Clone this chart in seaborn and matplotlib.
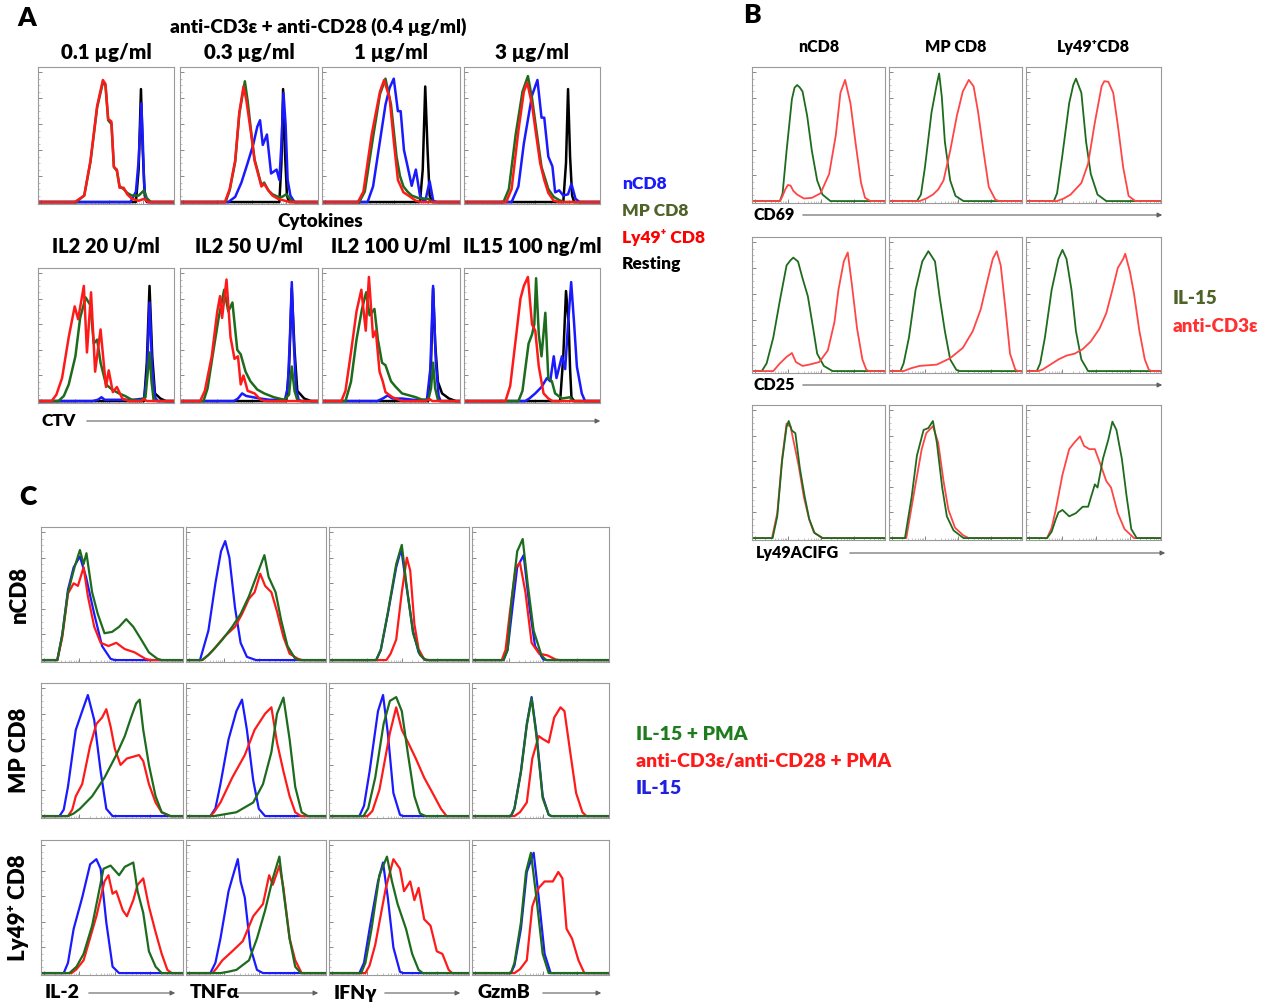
import matplotlib
matplotlib.use("Agg")
import matplotlib.pyplot as plt
from matplotlib.patches import FancyArrowPatch
import numpy as np
import pandas as pd
import seaborn as sns

# ---- Panel A: CTV dilution, top row (anti-CD3e doses), x/y in % of the plot box
a11_red = [(0,0),(27,0),(34,5),(38.6,32),(43.5,74),(47.7,94),(49.6,91),(51.6,64),(54,62),(55.8,27),(58,25),(60,11),(63,11),(65.6,6),(69,2.5),(74,1),(78,2.5),(81,0),(100,0)]
a11_green = [(0,0),(28,0),(34,5),(38.6,31),(43.5,73),(47.7,92),(49.6,90),(51.6,63),(54,60),(55.8,27),(58,24),(60,12),(63,10),(65.6,7),(69,5),(74,5),(76,7),(78,9),(80,3),(83,0),(100,0)]
a11_blue = [(0,0),(68,0),(72,8),(74,32),(76,76),(77,49),(78,15),(79,2),(81,0),(100,0)]
a11_black = [(0,0),(72,0),(74,25),(75.7,87),(77,40),(78.5,5),(80,0),(100,0)]

a12_red = [(0,0),(32.5,0),(36,10),(40,32),(43,69),(46,89),(48,79),(52,49),(54,32),(57,20),(59,12),(61,14),(64,9),(67,5),(71,2.5),(76,1),(80,0),(100,0)]
a12_green = [(0,0),(33,0),(36,9),(40,31),(43,68),(47,93),(49,78),(52,50),(54,33),(57,21),(59,13),(61,15),(64,9),(67,6),(71,4),(74,4),(77,6),(80,2),(83,0),(100,0)]
a12_blue = [(0,0),(35,0),(40,4),(44.5,15),(49,30),(53,44),(56,58),(58,63),(60,44),(63,52),(66,22),(70,25),(72,17),(73.5,45),(75,84),(76.5,60),(78,17),(80,5),(83,0),(100,0)]
a12_black = [(0,0),(72,0),(73.5,30),(74.7,87),(76,40),(77.5,5),(79,0),(100,0)]

a13_red = [(0,0),(26,0),(30,8),(36,52),(42,85),(45,94),(49,80),(52,47),(55,17),(59,7.5),(64,4),(68,1),(72,0),(100,0)]
a13_green = [(0,0),(27,0),(31,8),(37,50),(42,83),(46,95),(50,75),(54,35),(56.5,20),(59,12),(62,8),(65,5),(70,3),(77,2.5),(80,0),(100,0)]
a13_blue = [(0,0),(33,0),(37,12),(42,47),(46,75),(49,88),(52,95),(55,70),(57,70),(59.4,40),(62,27.5),(65,12.5),(68,25),(71,5),(73,1.5),(75,1.5),(78,16),(80.6,1),(83,0),(100,0)]
a13_black = [(0,0),(71,0),(73,25),(74.8,89),(76.5,40),(78,5),(80,0),(100,0)]

a14_red = [(0,0),(31,0),(35,10),(40,55),(44,85),(46.5,92),(50,75),(53,52),(56,30),(59,17),(62,7),(66,1),(70,0),(100,0)]
a14_green = [(0,0),(29,0),(33,10),(38,52),(43,85),(47,97),(50,80),(53,57),(57,27),(62,10),(66,4),(70,1.5),(73.5,0),(100,0)]
a14_blue = [(0,0),(35,0),(40,12),(44,45),(50,82),(54,94),(57,65),(59,65),(62,35),(65,27.5),(67,7.5),(70,9),(73,5),(76.5,6),(79,14),(82,2.5),(85,0),(100,0)]
a14_black = [(0,0),(73,0),(75,30),(76.5,87),(78,35),(79.5,5),(81,0),(100,0)]

# ---- Panel A: bottom row (cytokines)
a21_red = [(0,0),(10,0),(13.5,5),(17.7,18),(22.6,50),(27,74),(29.5,64),(33.7,90),(36,38),(39,85),(42,23),(46,56),(50,11),(52,24),(55,7),(58,11),(62,2),(67,0),(76,0),(78,1.5),(80,0),(100,0)]
a21_green = [(0,0),(15,0),(19,4),(22.6,13),(27.5,35),(31,65),(35,81),(38.5,75),(41,45),(43.5,48),(46,30),(50,13),(54.5,9),(59.5,6),(64,4),(69,1),(75,0.5),(79,3),(80.5,20),(82,38),(83.5,15),(85,1),(87,0),(100,0)]
a21_blue = [(0,0),(40,0),(44,1),(46.7,3),(49,1),(55,1),(70,1),(78,2),(80,20),(82,77),(84,25),(86,3),(88,0),(100,0)]
a21_black = [(0,0),(78,0),(80,30),(82,90),(84,35),(86,6),(90,2),(94,0),(100,0)]

a22_red = [(0,0),(14.6,0),(18,8),(23,35),(27,70),(29,82),(30.5,65),(33.7,95),(36.6,50),(39.5,33),(42,35),(44,13),(46,20),(49,8),(54,6),(58.5,1),(62,0),(100,0)]
a22_green = [(0,0),(17,0),(20,10),(24,38),(28,65),(32,87),(35,70),(38,77),(41.5,40),(44,36.5),(47.5,23),(51,15.5),(56,9),(61,6),(68,3),(75.6,1),(79,5),(81,27),(83,8),(85,1),(87,0),(100,0)]
a22_blue = [(0,0),(39,0),(42,2),(45,6),(48,4),(53,3),(58,2),(65,1),(76,1),(78,10),(79.5,45),(81,93),(82.5,45),(84,10),(86,1),(88,0),(100,0)]
a22_black = [(0,0),(77,0),(79,25),(81,88),(83,40),(85,8),(90,2),(95,0),(100,0)]

a23_red = [(0,0),(14,0),(17,8),(21,38),(25,70),(28.5,87),(31.7,55),(34,97),(37,50),(39,55),(41.7,23),(44,15.5),(46,7),(51,3),(58,0),(75,0),(78,1.5),(80,0),(100,0)]
a23_green = [(0,0),(17,0),(21,15),(25,48),(29,72),(32,85),(34.5,67),(38,72),(40.5,48),(43.5,30),(46,28),(50,15.5),(53.5,11),(58,6),(63,4.5),(68,3),(72.6,1),(77,1),(79,10),(80.5,30),(82,10),(84,1),(86,0),(100,0)]
a23_blue = [(0,0),(40,0),(44,2),(47.6,4.4),(51,2),(58,2),(66,1),(76,1),(78.5,25),(80.5,90),(82.5,30),(84.5,4),(86,0),(100,0)]
a23_black = [(0,0),(77,0),(79,30),(80.5,88),(82,45),(84,15),(87,6),(92,2),(97,0),(100,0)]

a24_red = [(0,0),(30.5,0),(34,12),(38,48),(41.5,80),(44,90),(47,97),(50,60),(52.4,55),(55,27),(58.5,6),(62,2),(65,0),(100,0)]
a24_green = [(0,0),(40,0),(43,8),(47.5,45),(50,52),(51.7,60),(53,96),(55,52),(57,35),(59.8,69),(62,18),(64.6,15.5),(67,6),(72,2),(78,3),(80,0),(100,0)]
a24_blue = [(0,0),(45,0),(48,2),(52.4,6),(57,11),(61,18),(63.4,15.5),(66,35),(68,18),(72,35),(74.4,25),(76.5,60),(78.8,93),(81,60),(83,27),(86.6,6),(89,0),(100,0)]
a24_black = [(0,0),(70.7,0),(73,35),(75,86),(77,60),(78,25),(79,3),(81,0),(100,0)]

a_top_titles = ["0.1 µg/ml", "0.3 µg/ml", "1 µg/ml", "3 µg/ml"]
a_bot_titles = ["IL2 20 U/ml", "IL2 50 U/ml", "IL2 100 U/ml", "IL15 100 ng/ml"]
a_legend = ["nCD8", "MP CD8", "Ly49⁺ CD8", "Resting"]

# ---- Panel B: CD69 / CD25 / Ly49 on nCD8, MP CD8, Ly49+ CD8
b_cd69_n_green = [(0,0),(21,0),(23,6),(26,39),(30,79),(32,88),(34,90),(36,88),(38,85),(41.5,66),(45,39),(49,16),(53,5),(59,0),(100,0)]
b_cd69_n_red = [(0,0),(21,0),(23,4),(25,9),(27,12.5),(29,12),(31,8),(34,5),(39,2),(45,2.5),(51.5,6),(58,21),(63,51),(66.5,84),(70,94),(74,76),(78,44),(82,14),(85,2.5),(89,0),(100,0)]
b_cd69_mp_green = [(0,0),(21,0),(24,5),(27,26),(32,69),(36,91),(37.7,99),(39.7,81),(42,46),(46,16),(50,4),(56,0),(100,0)]
b_cd69_mp_red = [(0,0),(23,0),(28,2),(33,5),(37,9),(41,16),(46,39),(51,66),(55.5,85),(60,94),(63.6,89),(67,69),(71,39),(75,11),(80,1),(83,0),(100,0)]
b_cd69_ly_green = [(0,0),(20.6,0),(23,6),(27,36),(32,76),(35,90),(37,95),(41,84),(44.5,46),(48,21),(53,5),(59.5,0),(100,0)]
b_cd69_ly_red = [(0,0),(23,0),(28,2),(33,5),(41,14),(46,29),(51,61),(56,89),(58,93),(61,92.5),(64.6,84),(68,59),(72,26),(76,4),(81,0),(100,0)]

b_cd25_n_green = [(0,0),(7.4,0),(11,6),(16,26),(21,55),(26,82),(29,86),(31,88),(34.6,85),(38,72),(42,58),(46,33),(49,13.5),(54,4),(60.5,0),(100,0)]
b_cd25_n_red = [(0,0),(16,0),(21,6),(26,11),(30,14),(33,7),(38,4),(43,5),(50.6,7),(57,16),(62,38),(65,63),(69,85),(72,92),(75,68),(79,33),(83,9),(86,1),(88,0),(100,0)]
b_cd25_mp_green = [(0,0),(8.6,0),(11,6),(15,26),(20,63),(25,85),(29.6,93),(34.6,85),(38,58),(42,31),(46,9),(50.6,1),(53,0),(100,0)]
b_cd25_mp_red = [(0,0),(11,0),(16,2),(23,4),(36,5),(46,10),(55.5,18),(63,31),(69,48),(74,70),(78,87),(81,93),(84,82),(87.6,48),(91,13.5),(95,1),(97,0),(100,0)]
b_cd25_ly_green = [(0,0),(8,0),(10.5,6),(14,26),(19,63),(24,87),(27,94),(30,87),(33.7,63),(37,31),(41,9),(46,0),(100,0)]
b_cd25_ly_red = [(0,0),(9,0),(12,1),(16.5,4),(24,9),(30,12),(36,13.5),(42,17),(48,23),(54.5,33),(59.5,45),(64,63),(68,80),(72,87),(73.5,91),(77,77),(80,60),(84,31),(88,9),(91,1),(93,0),(100,0)]

b_ly49_n_red = [(0,0),(15,0),(19,19.5),(22.6,62),(26,89.5),(27.5,88),(29,87),(31,77),(35,57),(39,32),(43,14.5),(46.5,4.5),(53,0),(100,0)]
b_ly49_n_green = [(0,0),(15.5,0),(19,17),(22.6,60),(26,87),(27.6,91.5),(30,84),(32.6,82),(36,54.5),(39.5,33),(43,15),(47,4),(53,0),(100,0)]
b_ly49_mp_red = [(0,0),(13,0),(19.5,39.5),(24.6,69.5),(28,82),(33,87.5),(37,74.5),(41,44.5),(44.7,22),(49.7,8),(56,2),(60,0),(100,0)]
b_ly49_mp_green = [(0,0),(12,0),(17,32),(21,64.5),(26,84.5),(29.6,86),(33,91.5),(36,74.5),(40,39.5),(43.5,17),(48.5,6),(56,0),(100,0)]
b_ly49_ly_red = [(0,0),(15.6,0),(19,8),(22,22),(27,49.5),(32,69.5),(35.7,74.5),(40,79.5),(43,72),(47,69.5),(51,69.5),(54.5,59.5),(59.5,44.5),(63,39.5),(68,19.5),(73,7),(80,0),(100,0)]
b_ly49_ly_green = [(0,0),(15.6,0),(19,5),(22,14.5),(24,20),(27,22),(32,17),(37,19.5),(42,24.5),(46,24.5),(51,42),(53,39.5),(57,62),(61,77),(64,91),(67,84.5),(71,62),(74.6,32),(78,7),(82,0),(100,0)]

b_col_titles = ["nCD8", "MP CD8", "Ly49⁺CD8"]
b_markers = ["CD69", "CD25", "Ly49ACIFG"]
b_legend = ["IL-15", "anti-CD3ε"]

# ---- Panel C: IL-2 / TNFa / IFNg / GzmB per subset
c_n_il2_blue = [(0,0),(11.5,0),(15,20),(19,55),(23,72.5),(27.4,81),(31.7,65),(37.5,36),(43,11),(49,1),(52,0),(100,0)]
c_n_il2_red = [(0,0),(11.5,0),(15,18),(19,52),(23,60),(26,58),(30,72.5),(33,50),(37.5,26),(42,13.5),(47.5,11),(53,13.5),(59,8.6),(66,6),(73.5,1),(77,0),(100,0)]
c_n_il2_green = [(0,0),(11.5,0),(15,20),(19,53),(23.6,72.5),(27.4,86),(30,75),(32,83.5),(36,53),(40,36),(44.7,21),(50,22),(55,26),(60,32),(65,26),(70.6,16),(76,6),(82,1),(85,0),(100,0)]
c_n_tnf_blue = [(0,0),(10,0),(16,23),(21,60),(25,85),(28,93),(31,80),(35,41),(39,13.5),(43.5,2.5),(50,0),(100,0)]
c_n_tnf_red = [(0,0),(11.6,0),(16,4),(20,8.6),(27.5,18.4),(35,26),(40,36),(45,48),(49,53),(53,67.5),(56.5,58),(61,53),(65,38),(69.5,18.4),(74,5),(80,1),(83,0),(100,0)]
c_n_tnf_green = [(0,0),(11.6,0),(16,4),(20,8.6),(26,16),(33,26),(39,36),(45,50),(51,67.5),(56,82),(59,65),(64,53),(68,31),(72.5,11),(78,1),(81,0),(100,0)]
c_n_ifn_blue = [(0,0),(33.7,0),(37,8),(42,36),(48,72.5),(51.6,87),(55,60),(60,23),(64,6),(68,0.5),(71,0),(100,0)]
c_n_ifn_red = [(0,0),(41,0),(44,5),(48,16),(52,53),(55.6,80),(58,70),(61,28),(64,8.6),(68,0.5),(71,0),(100,0)]
c_n_ifn_green = [(0,0),(33.7,0),(37,8),(42,37),(48,75),(52,90),(55,62),(60,21),(65,4),(69,0),(100,0)]
c_n_gzb_blue = [(0,0),(23,0),(26,8),(29,36),(33,72.5),(37.7,82),(42,41),(46,11),(52,0.5),(55,0),(100,0)]
c_n_gzb_red = [(0,0),(21.7,0),(24.5,8),(27.5,36),(32,72.5),(35,76),(39,53),(43.5,13.5),(49,5),(55,3.7),(61,0.5),(64,0),(100,0)]
c_n_gzb_green = [(0,0),(23,0),(26,8),(29,48),(33,85),(37,94.6),(40.6,60),(45,23),(50.7,3.7),(54,0),(100,0)]

c_mp_il2_blue = [(0,0),(13,0),(16,5),(19,23),(24.5,67.4),(29,82),(33,94.6),(37.5,75),(42,35),(46,5.7),(50.4,0),(100,0)]
c_mp_il2_red = [(0,0),(19,0),(22,5),(24.5,15.5),(29,25),(34.6,55),(39,72),(43,77),(46,83.5),(49,70),(52,52.6),(56,40),(60.5,45),(65,46.4),(69,47.7),(72,43),(76,25),(80.7,10.6),(85,3),(91,0),(100,0)]
c_mp_il2_green = [(0,0),(19,0),(23,2),(27.4,5.7),(36,15.5),(44.7,30),(53,47.7),(59,62.5),(63.4,77),(67,88),(69.5,91),(72,67.4),(76,40),(80.7,15.5),(85,3),(91,0),(100,0)]
c_mp_tnf_blue = [(0,0),(17.4,0),(21,6),(24.6,25),(30.4,60),(36,82),(40,91),(43.5,67.4),(48,28),(52,5.7),(56.5,0),(100,0)]
c_mp_tnf_red = [(0,0),(17.4,0),(20,3),(24.6,10.6),(33,30),(42,47.7),(49,67.4),(56.5,80),(61,85),(65,57.5),(69.6,35),(74,15.5),(78,3),(82,0),(100,0)]
c_mp_tnf_green = [(0,0),(20,0),(36,3),(48,10.6),(55,25),(61,50),(65,80),(69.6,92.6),(74,60),(78,23),(82.6,3),(87,0),(100,0)]
c_mp_ifn_blue = [(0,0),(21.7,0),(25,8),(29,35),(35,82),(38.6,94.6),(42,65),(46,18),(50.7,1),(53,0),(100,0)]
c_mp_ifn_red = [(0,0),(27.5,0),(31,4),(36,20.5),(43.5,65),(48,85),(52,67.4),(56.5,57.5),(62,45),(68,30),(74,18),(80,5.7),(84,0),(100,0)]
c_mp_ifn_green = [(0,0),(24.6,0),(28,6),(33,30),(39,72),(43.5,90),(48,93),(52,82),(56.5,47.7),(61,15.5),(65,2),(69,0),(100,0)]
c_mp_gzb_blue = [(0,0),(28.4,0),(31,6),(35.7,35),(40,72),(43.5,93),(47,65),(51.6,15.5),(56,1),(58,0),(100,0)]
c_mp_gzb_red = [(0,0),(31,0),(35,3),(40,10.6),(44,45),(48.7,62.5),(52,60),(56,57.5),(60,77),(64.6,85),(67.5,82),(72,47.7),(76,18),(80.6,3),(83.5,0),(100,0)]
c_mp_gzb_green = [(0,0),(28.4,0),(31,6),(35.7,34),(40,71),(43.5,92),(47,63),(51.6,14),(56,1),(58,0),(100,0)]

c_ly_il2_blue = [(0,0),(16,0),(19,8),(23,34.6),(29,59),(34.6,85),(39,89),(42,81.5),(46,39.5),(50.4,5),(55,0),(100,0)]
c_ly_il2_red = [(0,0),(21.6,0),(25,3),(30,10),(39,44.4),(44.7,71.6),(47.5,76.5),(50.4,62),(53,64),(57.6,49),(60.5,44.4),(65,57),(68,69),(72,74),(76,52),(80.7,32),(85,15),(89,2.5),(92,0),(100,0)]
c_ly_il2_green = [(0,0),(20,0),(25,5),(30,15),(36,37),(40,59),(44,81.5),(49,84),(55,76.5),(59,83),(65,86.4),(68,64),(72,47),(76,17),(80.7,5),(85,0),(100,0)]
c_ly_tnf_blue = [(0,0),(17.4,0),(21,8),(24.6,27),(30.4,64),(33,74),(37,89),(39,71.6),(42,59),(46,20),(50.7,2.5),(55,0),(100,0)]
c_ly_tnf_red = [(0,0),(19,0),(22,4),(26,10),(33,17),(40.6,25),(48,44.4),(55,54),(59.4,76.5),(62,69),(66.7,84),(69.6,66.6),(74,27),(78,10),(82.6,0),(100,0)]
c_ly_tnf_green = [(0,0),(24.6,0),(30,1),(36,2.5),(45,10),(50.7,27),(56.5,49),(62,74),(66.7,91),(69.6,64),(74,27),(78,5),(82,0),(100,0)]
c_ly_ifn_blue = [(0,0),(21.7,0),(25,8),(29,34.6),(35,71.6),(38.6,86.4),(42,59),(46,20),(50.7,1),(53,0),(100,0)]
c_ly_ifn_red = [(0,0),(26,0),(29,6),(33,22),(40.6,66.6),(46,89),(50.7,81.5),(53.6,64),(58,71.6),(61,57),(64,66.6),(68,42),(72.5,37),(77,17),(81,15),(85.5,2.5),(88,0),(100,0)]
c_ly_ifn_green = [(0,0),(23,0),(26,8),(30.4,34.6),(36,76.5),(41.4,91),(45,71.6),(49,54),(55,34.6),(59.4,15),(64,2.5),(67,0),(100,0)]
c_ly_gzb_blue = [(0,0),(28.4,0),(31,6),(35.7,34.6),(40,79),(45,94),(48.7,59),(53,15),(57.4,0),(100,0)]
c_ly_gzb_red = [(0,0),(31,0),(35,3),(40,10),(44,52),(48.7,66.6),(53,71.6),(59,71.6),(63,79),(66,74),(69,34.6),(73,27),(77.7,10),(82,0),(100,0)]
c_ly_gzb_green = [(0,0),(28.4,0),(31,8),(35.7,39.5),(39.4,79),(43,94),(47,59),(51.6,15),(56,0),(100,0)]

c_row_labels = ["nCD8", "MP CD8", "Ly49⁺ CD8"]
c_markers = ["IL-2", "TNFα", "IFNγ", "GzmB"]
c_legend = ["IL-15 + PMA", "anti-CD3ε/anti-CD28 + PMA", "IL-15"]

# colours
BLUE = "#1a1aff"
GREEN = "#1d6b1d"
RED = "#ff1a1a"
LRED = "#ff4545"
OLIVE = "#4f6228"

W, H = 1273, 1008
sns.set_theme(style="white")
plt.rcParams["font.family"] = ["Lato", "DejaVu Sans"]
plt.rcParams["font.weight"] = "bold"

fig = plt.figure(figsize=(W / 100, H / 100), dpi=100)


def box(x0, y0, x1, y1):
    ax = fig.add_axes([x0 / W, 1 - y1 / H, (x1 - x0) / W, (y1 - y0) / H])
    ax.set_xlim(0, 100)
    ax.set_ylim(-1.5, 104)
    for s in ax.spines.values():
        s.set_visible(True)
        s.set_color("#9a9a9a")
        s.set_linewidth(0.8)
    # log-like flow cytometry ticks
    dec = [2, 27, 52, 77]
    minor = [d + 25 * np.log10(m) for d in dec for m in range(2, 10) if d + 25 * np.log10(m) < 100]
    ax.set_xticks(dec)
    ax.set_xticks(minor, minor=True)
    ax.set_yticks(range(0, 101, 20))
    ax.set_yticks(range(0, 101, 5), minor=True)
    ax.tick_params(which="major", length=3, width=0.7, color="#888888", direction="in",
                   bottom=True, left=True, labelbottom=False, labelleft=False)
    ax.tick_params(which="minor", length=1.5, width=0.5, color="#aaaaaa", direction="in",
                   bottom=True, left=True)
    return ax


def curve(ax, pts, color, lw):
    df = pd.DataFrame(pts, columns=["x", "y"])
    sns.lineplot(data=df, x="x", y="y", ax=ax, color=color, lw=lw,
                 sort=False, estimator=None, legend=False)
    ax.set_xlabel("")
    ax.set_ylabel("")


def txt(x, y, s, size=12, color="black", ha="center", rot=0):
    fig.text(x / W, 1 - y / H, s, fontsize=size, color=color, ha=ha, va="center",
             fontweight="heavy", rotation=rot)


def arrow(x0, x1, y):
    fig.add_artist(FancyArrowPatch((x0 / W, 1 - y / H), (x1 / W, 1 - y / H),
                                   transform=fig.transFigure, arrowstyle="-|>",
                                   mutation_scale=7, color="#606060", lw=0.8))


# ---------------- Panel A
a_cols = [(38, 174), (180, 318), (322, 460), (464, 600)]
a_top = [(a11_black, a11_blue, a11_green, a11_red), (a12_black, a12_blue, a12_green, a12_red),
         (a13_black, a13_blue, a13_green, a13_red), (a14_black, a14_blue, a14_green, a14_red)]
a_bot = [(a21_black, a21_blue, a21_green, a21_red), (a22_black, a22_blue, a22_green, a22_red),
         (a23_black, a23_blue, a23_green, a23_red), (a24_black, a24_blue, a24_green, a24_red)]
for (x0, x1), curves in zip(a_cols, a_top):
    ax = box(x0, 67, x1, 204)
    for pts, col in zip(curves, ["black", BLUE, GREEN, RED]):
        curve(ax, pts, col, 1.8)
for (x0, x1), curves in zip(a_cols, a_bot):
    ax = box(x0, 268, x1, 403)
    for pts, col in zip(curves, ["black", BLUE, GREEN, RED]):
        curve(ax, pts, col, 1.8)

txt(27, 18, "A", size=19)
txt(318, 27, "anti-CD3ε + anti-CD28 (0.4 µg/ml)", size=13.8)
for (x0, x1), t in zip(a_cols, a_top_titles):
    txt((x0 + x1) / 2, 52, t, size=14.8)
txt(320, 222, "Cytokines", size=13.6)
for (x0, x1), t in zip(a_cols, a_bot_titles):
    txt((x0 + x1) / 2, 246, t, size=14.5)
txt(42, 421, "CTV", size=12.6, ha="left")
arrow(84, 603, 421)
for i, (t, c) in enumerate(zip(a_legend, [BLUE, OLIVE, "#ff0000", "black"])):
    txt(622, 184 + 26.5 * i, t, size=12.5, color=c, ha="left")

# ---------------- Panel B
b_cols = [(752, 885), (889, 1022), (1026, 1161)]
b_rows = [(67, 203), (237, 373), (405, 540)]
b_data = [[(b_cd69_n_green, b_cd69_n_red), (b_cd69_mp_green, b_cd69_mp_red), (b_cd69_ly_green, b_cd69_ly_red)],
          [(b_cd25_n_green, b_cd25_n_red), (b_cd25_mp_green, b_cd25_mp_red), (b_cd25_ly_green, b_cd25_ly_red)],
          [(b_ly49_n_red, b_ly49_n_green), (b_ly49_mp_red, b_ly49_mp_green), (b_ly49_ly_red, b_ly49_ly_green)]]
for r, (y0, y1) in enumerate(b_rows):
    for c, (x0, x1) in enumerate(b_cols):
        ax = box(x0, y0, x1, y1)
        first, second = b_data[r][c]
        cols = [GREEN, LRED] if r < 2 else [LRED, GREEN]
        curve(ax, first, cols[0], 1.3)
        curve(ax, second, cols[1], 1.3)

txt(752, 15, "B", size=19)
for (x0, x1), t in zip(b_cols, b_col_titles):
    txt((x0 + x1) / 2, 47, t, size=11.5)
txt(753, 215, b_markers[0], size=11.5, ha="left")
arrow(800, 1165, 215)
txt(753, 385, b_markers[1], size=11.5, ha="left")
arrow(800, 1165, 385)
txt(756, 553, b_markers[2], size=11.5, ha="left")
arrow(847, 1168, 553)
txt(1173, 298, b_legend[0], size=13.5, color=OLIVE, ha="left")
txt(1173, 327, b_legend[1], size=13.5, color="#ff3030", ha="left")

# ---------------- Panel C
c_cols = [(41, 183), (186, 326), (329, 469), (472, 609)]
c_rows = [(527, 662), (683, 818), (840, 975)]
c_data = [[(c_n_il2_blue, c_n_il2_red, c_n_il2_green), (c_n_tnf_blue, c_n_tnf_red, c_n_tnf_green),
           (c_n_ifn_blue, c_n_ifn_red, c_n_ifn_green), (c_n_gzb_blue, c_n_gzb_red, c_n_gzb_green)],
          [(c_mp_il2_blue, c_mp_il2_red, c_mp_il2_green), (c_mp_tnf_blue, c_mp_tnf_red, c_mp_tnf_green),
           (c_mp_ifn_blue, c_mp_ifn_red, c_mp_ifn_green), (c_mp_gzb_blue, c_mp_gzb_red, c_mp_gzb_green)],
          [(c_ly_il2_blue, c_ly_il2_red, c_ly_il2_green), (c_ly_tnf_blue, c_ly_tnf_red, c_ly_tnf_green),
           (c_ly_ifn_blue, c_ly_ifn_red, c_ly_ifn_green), (c_ly_gzb_blue, c_ly_gzb_red, c_ly_gzb_green)]]
for r, (y0, y1) in enumerate(c_rows):
    for c, (x0, x1) in enumerate(c_cols):
        ax = box(x0, y0, x1, y1)
        for pts, col in zip(c_data[r][c], [BLUE, RED, GREEN]):
            curve(ax, pts, col, 1.6)

txt(28, 497, "C", size=19)
for (y0, y1), t in zip(c_rows, c_row_labels):
    txt(19, (y0 + y1) / 2, t, size=16, rot=90)
c_lab_x = [45, 190, 334, 477]
c_arrows = [(86, 178), (234, 321), (382, 463), (540, 604)]
for x, (a0, a1), t in zip(c_lab_x, c_arrows, c_markers):
    txt(x, 993, t, size=14, ha="left")
    arrow(a0, a1, 993)
for i, (t, c) in enumerate(zip(c_legend, ["#1e7b1e", "#ff1a1a", "#2020e0"])):
    txt(636, 735 + 27 * i, t, size=14, color=c, ha="left")

fig.savefig("out.png", dpi=100)
